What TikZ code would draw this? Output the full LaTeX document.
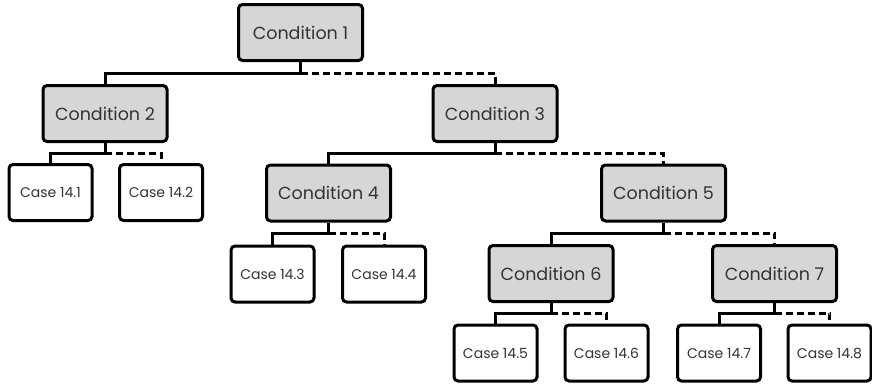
\documentclass[tikz,border=0pt]{standalone}
\usepackage{fontspec}
\setmainfont{Poppins}
\usetikzlibrary{calc}
\definecolor{boxgray}{HTML}{D6D6D6}
\definecolor{txt}{HTML}{333333}
\tikzset{
  cond/.style={draw=black, fill=boxgray, rounded corners=4pt, line width=3pt,
    minimum width=124pt, minimum height=56pt, inner sep=0pt, text=txt,
    font=\fontsize{17.5}{20}\selectfont},
  casebox/.style={draw=black, fill=white, rounded corners=4pt, line width=3pt,
    minimum width=83pt, minimum height=56pt, inner sep=0pt, text=txt,
    font=\fontsize{14}{16}\selectfont},
  link/.style={line width=3pt},
  dlink/.style={line width=3pt, dash pattern=on 7pt off 4pt}
}
\begin{document}
\begin{tikzpicture}[x=1pt,y=-1pt]
\useasboundingbox (0,0) rectangle (872,386);
\node[cond] (c1) at (300.5,32.5) {Condition 1};
\node[cond] (c2) at (105,113.5) {Condition 2};
\node[cond] (c3) at (495,113.5) {Condition 3};
\node[cond] (c4) at (328.5,193) {Condition 4};
\node[cond] (c5) at (663.5,193) {Condition 5};
\node[cond] (c6) at (551,273.5) {Condition 6};
\node[cond] (c7) at (774.5,273.5) {Condition 7};
\node[casebox] (k1) at (50.5,192.5) {Case 14.1};
\node[casebox] (k2) at (161,192.5) {Case 14.2};
\node[casebox] (k3) at (272.5,274) {Case 14.3};
\node[casebox] (k4) at (384,274) {Case 14.4};
\node[casebox] (k5) at (495.5,353) {Case 14.5};
\node[casebox] (k6) at (606.5,353) {Case 14.6};
\node[casebox] (k7) at (719,353) {Case 14.7};
\node[casebox] (k8) at (829.5,353) {Case 14.8};
\foreach \p/\l/\r in {c1/c2/c3, c2/k1/k2, c3/c4/c5, c4/k3/k4, c5/c6/c7, c6/k5/k6, c7/k7/k8}{
  \coordinate (j\p) at ($(\p.south)!0.5!(\l.north -| \p.south)$);
  \draw[link] (\p.south) -- (j\p) -| (\l.north);
  \draw[dlink] (j\p) -| (\r.north);
}
\end{tikzpicture}
\end{document}
